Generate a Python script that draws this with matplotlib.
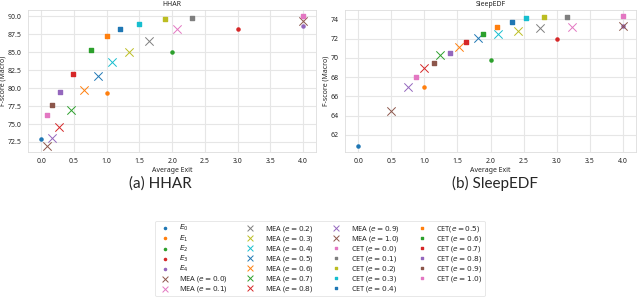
import matplotlib.pyplot as plt
import seaborn as sns

sns.set_style('whitegrid')
plt.rcParams['font.family'] = ['Noto Sans', 'DejaVu Sans']
plt.rcParams['mathtext.fontset'] = 'dejavusans'

# exits E0..E4
exit_labels = [r'$E_0$', r'$E_1$', r'$E_2$', r'$E_3$', r'$E_4$']
e_values = [0.0, 0.1, 0.2, 0.3, 0.4, 0.5, 0.6, 0.7, 0.8, 0.9, 1.0]

# HHAR
hhar_exit_x = [0, 1, 2, 3, 4]
hhar_exit_f = [72.9, 79.3, 85.0, 88.2, 88.7]
hhar_mea_x = [0.09, 2.08, 1.64, 1.34, 1.08, 0.86, 0.66, 0.45, 0.27, 0.17, 4.0]
hhar_mea_f = [72.0, 88.2, 86.6, 85.0, 83.6, 81.7, 79.8, 77.0, 74.6, 73.1, 89.3]
hhar_cet_x = [0.09, 2.30, 1.89, 1.49, 1.20, 1.0, 0.755, 0.48, 0.28, 0.17, 4.0]
hhar_cet_f = [76.3, 89.8, 89.7, 89.0, 88.2, 87.2, 85.3, 82.0, 79.5, 77.6, 90.0]

# SleepEDF
sleep_exit_x = [0, 1, 2, 3, 4]
sleep_exit_f = [60.9, 67.0, 69.8, 72.0, 73.3]
sleep_mea_x = [0.49, 3.23, 2.74, 2.42, 2.11, 1.81, 1.52, 1.24, 1.0, 0.75, 4.0]
sleep_mea_f = [64.5, 73.2, 73.1, 72.8, 72.5, 72.05, 71.1, 70.3, 68.9, 67.0, 73.3]
sleep_cet_x = [0.88, 3.16, 2.80, 2.54, 2.32, 2.10, 1.88, 1.63, 1.39, 1.145, 4.0]
sleep_cet_f = [68.0, 74.2, 74.2, 74.1, 73.7, 73.2, 72.5, 71.6, 70.5, 69.5, 74.3]

colors = plt.rcParams['axes.prop_cycle'].by_key()['color']

fig = plt.figure(figsize=(6.4, 3.01), dpi=100)
ax1 = fig.add_axes([0.044, 0.495, 0.450, 0.472])
ax2 = fig.add_axes([0.539, 0.495, 0.455, 0.472])


def draw(ax, title, ex, ef, mx, mf, cx, cf):
    ci = 0
    for i in range(len(ex)):
        ax.scatter(ex[i], ef[i], marker='o', s=5, color=colors[ci % 10],
                   label=exit_labels[i], zorder=3)
        ci += 1
    for i, e in enumerate(e_values):
        ax.scatter(mx[i], mf[i], marker='x', s=36, linewidths=0.7,
                   color=colors[ci % 10], label='MEA ($e = %.1f$)' % e, zorder=3)
        ci += 1
    for i, e in enumerate(e_values):
        lab = 'CET($e = %.1f$)' % e if e == 0.5 else 'CET ($e = %.1f$)' % e
        ax.scatter(cx[i], cf[i], marker='s', s=8, color=colors[ci % 10],
                   label=lab, zorder=3)
        ci += 1
    ax.set_title(title, fontsize=5, pad=3)
    ax.set_xlabel('Average Exit', fontsize=5, labelpad=1)
    ax.set_ylabel('F-score (Macro)', fontsize=5, labelpad=1)
    ax.tick_params(labelsize=5, pad=1)
    ax.set_xticks([0, 0.5, 1, 1.5, 2, 2.5, 3, 3.5, 4])
    for s in ax.spines.values():
        s.set_color('#dddddd')
        s.set_linewidth(0.6)
    ax.grid(color='#e6e6e6', linewidth=0.8)


draw(ax1, 'HHAR', hhar_exit_x, hhar_exit_f, hhar_mea_x, hhar_mea_f, hhar_cet_x, hhar_cet_f)
draw(ax2, 'SleepEDF', sleep_exit_x, sleep_exit_f, sleep_mea_x, sleep_mea_f, sleep_cet_x, sleep_cet_f)
ax1.set_yticks([72.5, 75, 77.5, 80, 82.5, 85, 87.5, 90])
ax2.set_yticks([62, 64, 66, 68, 70, 72, 74])

fig.text(0.25, 0.39, '(a) HHAR', ha='center', va='center', fontsize=11, family='Lato')
fig.text(0.773, 0.39, '(b) SleepEDF', ha='center', va='center', fontsize=11, family='Lato')

handles, labels = ax1.get_legend_handles_labels()
leg = fig.legend(handles, labels, loc='lower center', bbox_to_anchor=(0.5, 0.003),
                 ncol=4, fontsize=5.3, frameon=True, columnspacing=2.0,
                 handletextpad=1.0, labelspacing=0.0, borderpad=0.3,
                 markerscale=0.7, handlelength=2.0)
leg.get_frame().set_edgecolor('#dddddd')
leg.get_frame().set_linewidth(0.6)

fig.savefig('out.png', dpi=100)
